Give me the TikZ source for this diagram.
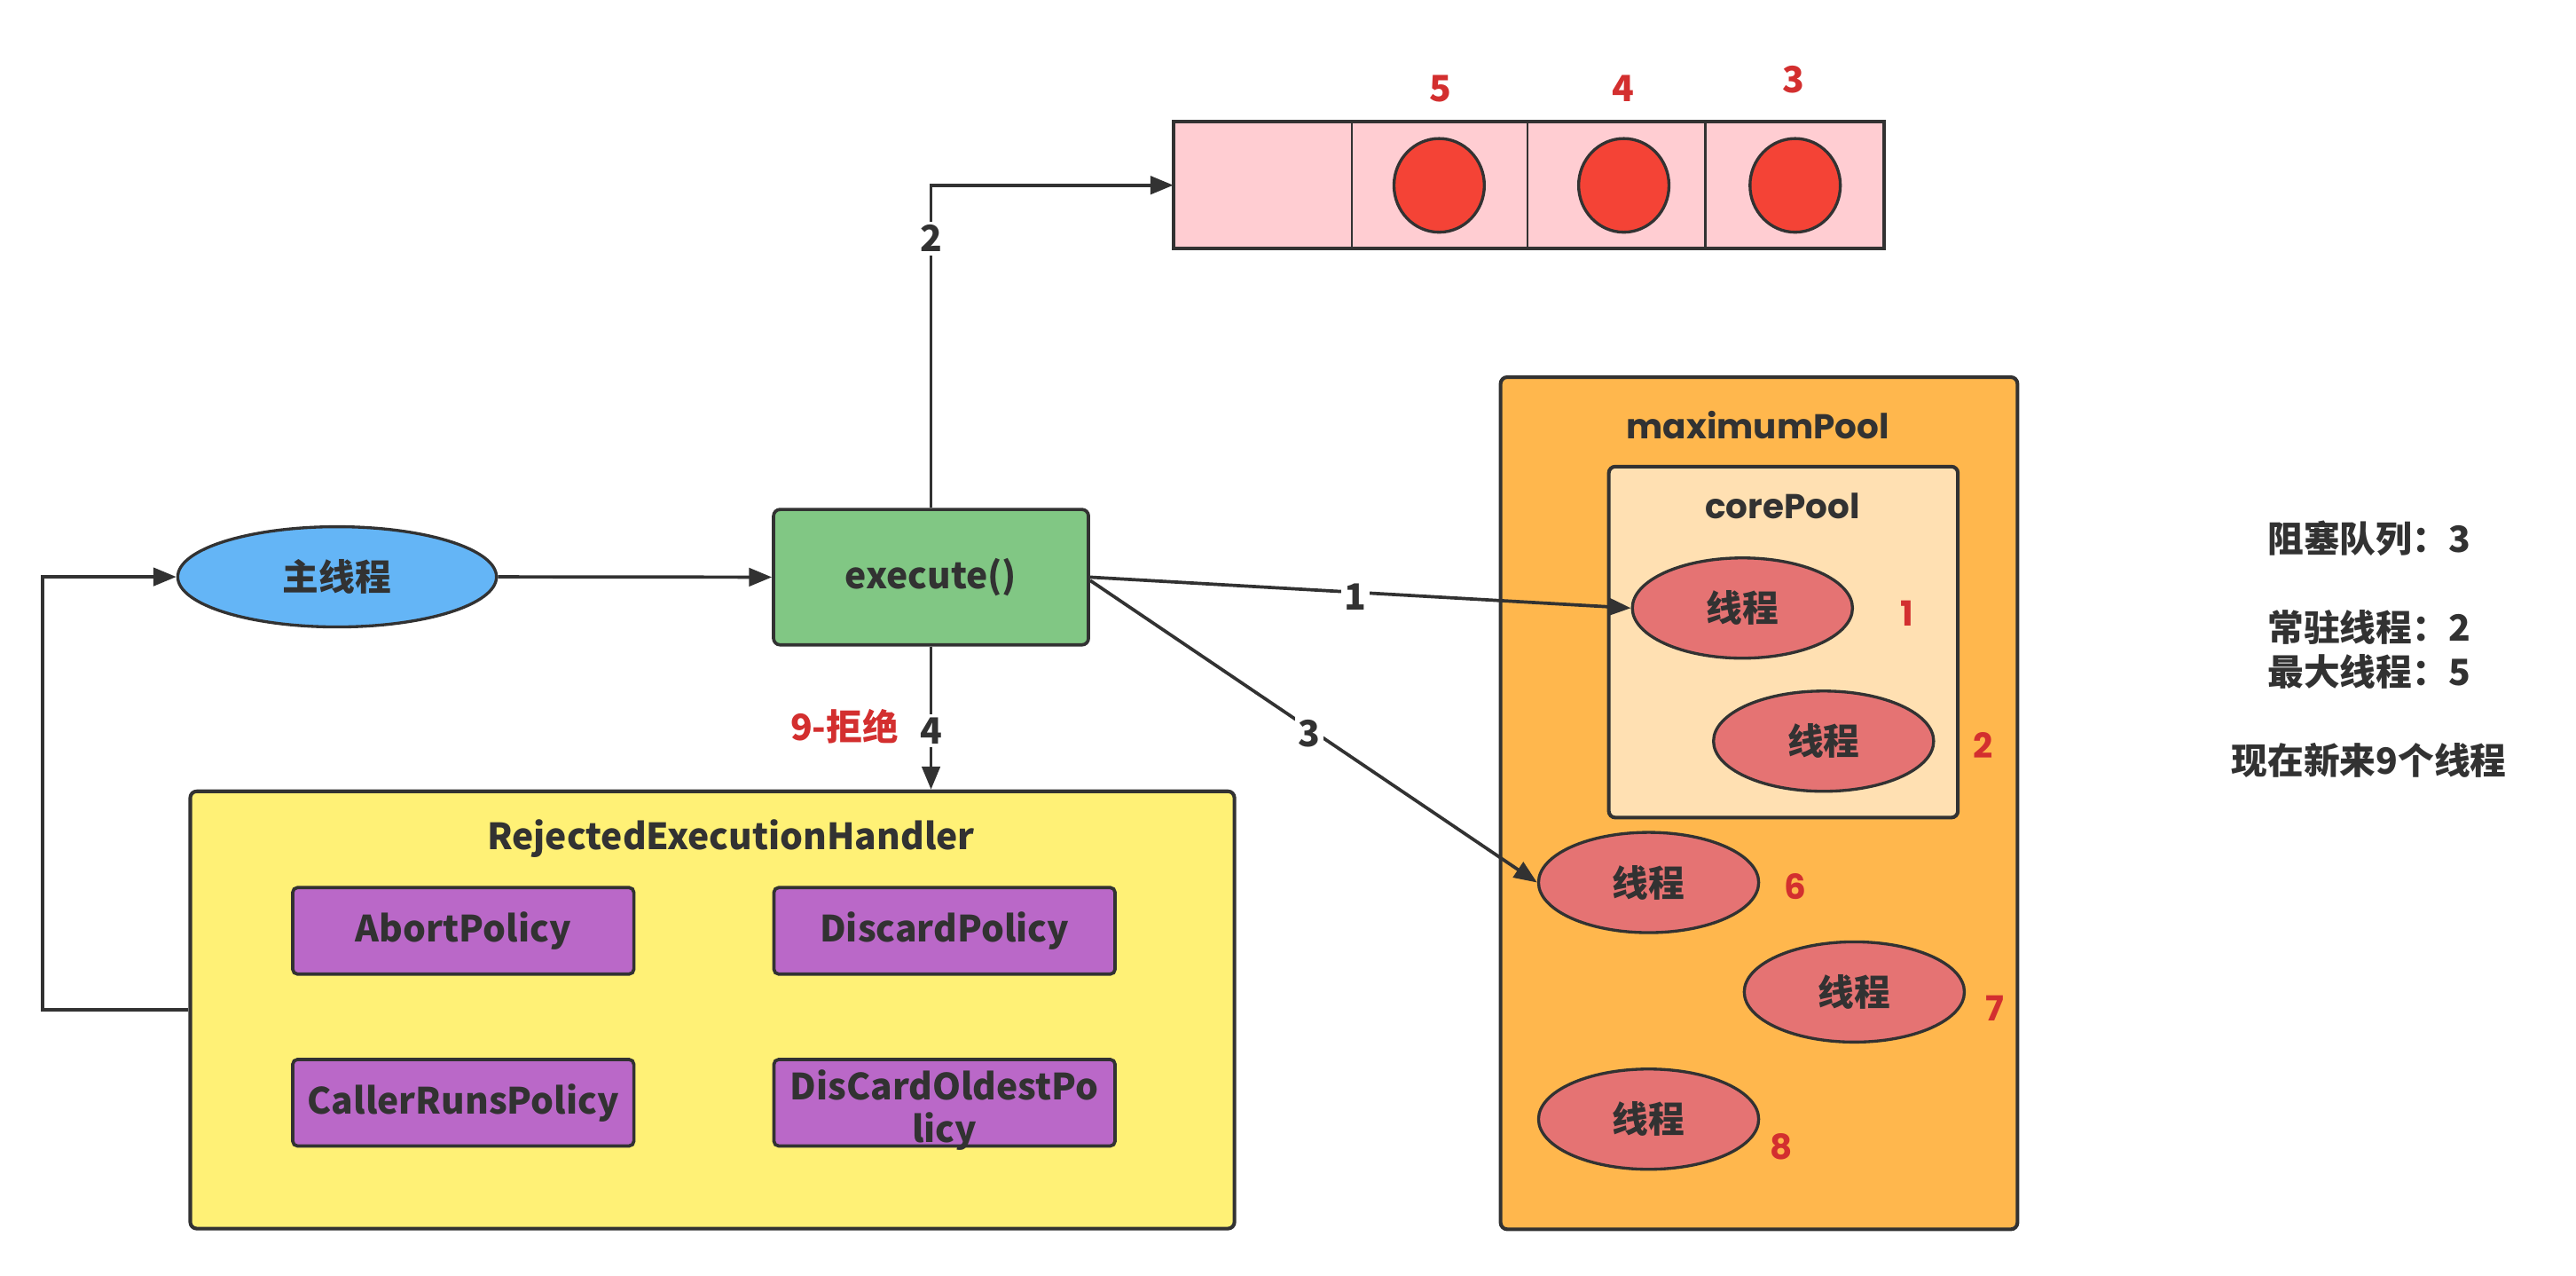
\documentclass[tikz,border=0pt]{standalone}
\usepackage{fontspec}
\setmainfont{Noto Sans CJK SC}
\newfontfamily\geo{Poppins}
\usetikzlibrary{shapes.geometric,arrows.meta}
\definecolor{dk}{HTML}{323232}
\definecolor{txtred}{HTML}{D32F2F}
\definecolor{blu}{HTML}{64B5F6}
\definecolor{grn}{HTML}{81C784}
\definecolor{yel}{HTML}{FFF176}
\definecolor{purp}{HTML}{BA68C8}
\definecolor{orng}{HTML}{FFB74D}
\definecolor{corec}{HTML}{FFE0B2}
\definecolor{thrc}{HTML}{E57373}
\definecolor{pinkc}{HTML}{FFCDD2}
\definecolor{dotc}{HTML}{F44336}
\begin{document}
\begin{tikzpicture}[x=1pt,y=-1pt,
  every node/.style={text=dk, font=\bfseries\fontsize{22}{26}\selectfont},
  conn/.style={draw=dk, line width=2pt, -{Triangle[length=14pt,width=11pt]}},
  box/.style={draw=dk, line width=2.2pt, rounded corners=4pt, inner sep=0pt},
  pol/.style={box, fill=purp, minimum width=207.7pt, minimum height=52.7pt, line width=2pt, rounded corners=3pt},
  thr/.style={ellipse, draw=dk, line width=1.8pt, fill=thrc, minimum width=134pt, minimum height=61pt, inner sep=0pt},
  cell/.style={draw=dk, line width=1.2pt, fill=pinkc, minimum height=76.1pt, inner sep=0pt},
  dot/.style={ellipse, draw=dk, line width=1.8pt, fill=dotc, minimum width=55pt, minimum height=57pt, inner sep=0pt},
  lbl/.style={fill=white, inner sep=2pt, yshift=-3pt},
  rednum/.style={text=txtred},
  geonum/.style={text=txtred, font=\geo\bfseries\fontsize{21}{24}\selectfont},
  geotitle/.style={font=\geo\bfseries\fontsize{21}{24}\selectfont}
]
\useasboundingbox (0,0) rectangle (1568,776);

% main thread and execute
\node[ellipse, draw=dk, line width=1.8pt, fill=blu, minimum width=194pt, minimum height=61pt, inner sep=0pt] (main) at (205.2,351) {主线程};
\node[box, fill=grn, line width=2pt, minimum width=191.7pt, minimum height=82.4pt] (exec) at (566.7,351.2) {execute()};

% blocking queue
\node[cell, minimum width=108.2pt] (c1) at (768.9,112.7) {};
\node[cell, minimum width=106.7pt] (c2) at (876.35,112.7) {};
\node[cell, minimum width=108.3pt] (c3) at (983.85,112.7) {};
\node[cell, minimum width=108.2pt] (c4) at (1092.1,112.7) {};
\draw[dk, line width=2.2pt] (c1.north west) rectangle (c4.south east);
\node[dot] (d5) at (876,112.8) {};
\node[dot] (d4) at (988.4,112.8) {};
\node[dot] (d3) at (1092.7,112.8) {};
\node[rednum] (n5) at (876.8,54) {5};
\node[rednum] (n4) at (988.3,54) {4};
\node[rednum] (n3) at (1091.6,48.6) {3};

% rejected handler
\node[box, fill=yel, minimum width=635.6pt, minimum height=266.1pt] (rej) at (433.6,614.55) {};
\node (rejt) at (444.9,510.4) {RejectedExecutionHandler};
\node[pol] (abort) at (282,566.4) {AbortPolicy};
\node[pol] (discard) at (574.9,566.4) {DiscardPolicy};
\node[pol] (caller) at (282,671) {CallerRunsPolicy};
\node[pol] (oldest) at (574.9,671) {};
\node[align=center, font=\bfseries\fontsize{22}{26}\selectfont, inner sep=0pt] (oldestt) at (574.9,675.5) {DisCardOldestPo\\licy};

% maximum pool
\node[box, fill=orng, minimum width=314.6pt, minimum height=518.5pt] (maxp) at (1070.7,488.75) {};
\node[geotitle] (maxt) at (1070,258.8) {maximumPool};
\node[box, fill=corec, minimum width=212.5pt, minimum height=213.6pt] (core) at (1085.5,390.7) {};
\node[geotitle] (coret) at (1085,307.7) {corePool};
\node[thr] (t1) at (1060.6,370) {线程};
\node[thr] (t2) at (1110,451) {线程};
\node[thr] (t6) at (1003.5,537) {线程};
\node[thr] (t7) at (1128.7,603.6) {线程};
\node[thr] (t8) at (1003.5,681) {线程};
\node[geonum] (l1) at (1161,373) {1};
\node[geonum] (l2) at (1207,453.4) {2};
\node[geonum] (l6) at (1093,539.5) {6};
\node[geonum] (l7) at (1214,613.6) {7};
\node[geonum] (l8) at (1084,698) {8};

% right notes
\node[align=center, font=\bfseries\fontsize{22}{27}\selectfont] (note) at (1442,395) {阻塞队列：3\\[27pt]常驻线程：2\\最大线程：5\\[27pt]现在新来9个线程};

% connectors
\draw[conn] (main.east) -- (exec.west);
\draw[conn] (exec.north) |- node[lbl, pos=0.425] {2} (c1.west);
\draw[conn] (exec.south) -- node[lbl, pos=0.554] {4} (exec.south |- rej.north);
\node[rednum] (reject) at (514,441.8) {9-拒绝};
\draw[conn] (exec.east) -- node[lbl, pos=0.49] {1} (t1.west);
\draw[conn] ([yshift=-2pt]exec.east) -- node[lbl, pos=0.49] {3} (t6.west);
\draw[conn] (rej.west) -- ++(-88.8,0) |- (main.west);
\end{tikzpicture}
\end{document}
